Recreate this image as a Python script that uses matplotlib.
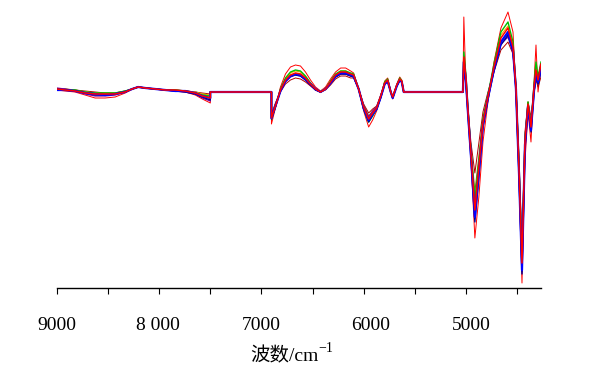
import matplotlib
matplotlib.use('Agg')
import matplotlib.pyplot as plt

plt.rcParams['font.family'] = ['Liberation Serif', 'Noto Sans CJK SC']

# wavenumber grid (cm-1) of the three measured windows
wn1 = [9000, 8922, 8824, 8725, 8627, 8529, 8431, 8333, 8265, 8206, 8137, 8039,
       7941, 7843, 7745, 7647, 7578, 7500]
wn3 = [6902, 6863, 6814, 6765, 6716, 6667, 6618, 6569, 6520, 6471, 6422, 6373,
       6324, 6275, 6225, 6176, 6127, 6098, 6049, 6000, 5951, 5912, 5873, 5833,
       5794, 5765, 5735, 5716, 5676, 5647, 5627, 5608]
wn5 = [5020, 5000, 4980, 4951, 4912, 4873, 4833, 4784, 4725, 4657, 4588, 4539,
       4510, 4480, 4451, 4422, 4392, 4363, 4333, 4314, 4294, 4265]

# spectra (a.u.), one entry per window
high = ([2, 1, 0, -3, -6, -6, -5, -1, 3, 5, 4, 3, 2, 1, 0, -3, -7, -11],
        [-32, -16, 5, 18, 25, 27, 26, 20, 12, 5, 1, 5, 13, 20, 24, 24, 21, 19, 3,
         -19, -35, -28, -19, -4, 11, 14, 1, -7, 8, 15, 12, 0],
        [75, 10, -18, -65, -146, -105, -50, -10, 30, 64, 80, 60, 0, -90, -191,
         -70, -20, -50, 10, 47, 0, 25])
low = ([3, 3, 2, 1, 0, -1, -1, 1, 3, 5, 4, 3, 2, 2, 1, 0, -1, -2],
       [-22, -11, 0, 8, 12, 14, 13, 10, 6, 2, 0, 2, 7, 13, 16, 16, 14, 14, 3,
        -12, -21, -17, -14, -3, 8, 10, 0, -4, 6, 11, 10, 0],
       [20, 10, -15, -50, -81, -51, -20, 0, 20, 42, 50, 38, 5, -65, -153, -40,
        -10, -25, 0, 12, 5, 15])
olive = ([3, 3, 2, 0, -1, -1, -1, 1, 3, 5, 4, 3, 2, 2, 1, 0, -2, -3],
         [-23, -12, 1, 11, 16, 18, 17, 13, 8, 3, 0, 3, 9, 15, 18, 18, 16, 15, 3,
          -13, -24, -19, -15, -4, 9, 11, 0, -4, 6, 12, 10, 0],
         [22, 10, -16, -55, -100, -65, -26, -2, 24, 50, 58, 42, 5, -72, -160,
          -45, -10, -30, 4, 18, 10, 20])
orange = ([3, 2, 1, 0, -1, -2, -1, 0, 3, 5, 4, 3, 2, 1, 1, 0, -2, -3],
          [-25, -14, 2, 13, 19, 21, 20, 15, 9, 3, 1, 4, 11, 17, 21, 21, 18, 17, 3,
           -15, -28, -22, -16, -4, 10, 12, 0, -5, 7, 13, 11, 0],
          [32, 14, -17, -60, -112, -72, -30, -4, 26, 57, 66, 47, 5, -76, -168,
           -50, -12, -34, 6, 25, 14, 27])
green = ([3, 2, 2, 0, -1, -1, -1, 1, 3, 5, 4, 3, 2, 2, 1, -1, -3, -4],
         [-27, -15, 3, 14, 20, 22, 21, 16, 9, 3, 0, 3, 11, 18, 21, 21, 19, 18, 3,
          -17, -30, -24, -17, -5, 10, 13, 0, -6, 7, 14, 11, 0],
         [40, 18, -16, -58, -108, -70, -28, -3, 28, 60, 70, 50, 5, -75, -165,
          -48, -10, -33, 8, 30, 15, 30])
purple = ([4, 3, 1, -2, -4, -4, -3, 0, 3, 5, 4, 3, 2, 1, 0, -2, -6, -9],
          [-24, -13, 1, 10, 15, 17, 16, 12, 7, 2, 0, 3, 9, 15, 18, 18, 16, 15, 3,
           -14, -25, -19, -15, -5, 8, 11, 0, -5, 6, 12, 10, 0],
          [25, 8, -20, -60, -120, -78, -32, -5, 22, 48, 55, 40, 3, -80, -180,
           -55, -15, -36, 0, 15, 8, 20])
navy = ([3, 2, 1, -1, -3, -3, -2, 0, 3, 5, 4, 3, 2, 1, 0, -2, -5, -8],
        [-27, -15, 1, 11, 16, 17, 16, 12, 7, 2, 0, 3, 9, 15, 18, 18, 16, 15, 3,
         -17, -30, -23, -17, -6, 8, 11, 0, -6, 6, 12, 10, 0],
        [28, 10, -22, -66, -130, -85, -36, -7, 21, 47, 57, 40, 2, -85, -182,
         -56, -16, -40, 0, 15, 8, 22])
blue = ([2, 2, 1, -1, -2, -3, -2, 0, 3, 5, 4, 3, 2, 1, 1, -1, -4, -6],
        [-26, -14, 1, 11, 16, 18, 17, 13, 8, 3, 0, 3, 9, 16, 19, 19, 17, 16, 3,
         -16, -28, -22, -17, -5, 8, 11, 0, -6, 6, 12, 10, 0],
        [30, 12, -20, -63, -125, -80, -33, -6, 23, 50, 60, 42, 3, -82, -178,
         -53, -14, -38, 2, 18, 10, 25])
mean = ([3, 2, 1, -1, -2, -2, -2, 0, 3, 5, 4, 3, 2, 2, 1, -1, -4, -6],
        [-26, -14, 2, 12, 17, 19, 18, 14, 8, 3, 0, 3, 10, 17, 20, 20, 18, 17, 3,
         -15, -27, -21, -16, -4, 9, 12, 0, -5, 7, 13, 11, 0],
        [35, 15, -18, -61, -118, -75, -31, -5, 25, 54, 64, 45, 5, -78, -171,
         -50, -12, -35, 5, 22, 12, 28])

tick_pos = [9000, 8010, 7000, 5931, 4951]
tick_txt = ['9000', '8 000', '7000', '6000', '5000']

# excluded windows are flat zero
x = wn1 + [7500, 6902] + wn3 + [5029] + wn5


def full(s):
    return s[0] + [0, 0] + s[1] + [0] + s[2]


fig = plt.figure(figsize=(5.93, 3.66), dpi=100)
ax = fig.add_axes([57 / 593, 78 / 366, 484 / 593, 278 / 366])

ax.plot(x, full(high), color='#ff0000', lw=0.7)
ax.plot(x, full(low), color='#b00000', lw=0.7)
ax.plot(x, full(olive), color='#808000', lw=0.8)
ax.plot(x, full(orange), color='#ffa500', lw=0.8)
ax.plot(x, full(green), color='#00c000', lw=1.0)
ax.plot(x, full(purple), color='#8000a0', lw=0.9)
ax.plot(x, full(navy), color='#000090', lw=1.0)
ax.plot(x, full(blue), color='#0000ff', lw=1.6)
ax.plot(x, full(mean), color='#ff0000', lw=1.1)

ax.set_xlim(9000, 4265)
ax.set_ylim(-196, 82)
for s in ['top', 'left', 'right']:
    ax.spines[s].set_visible(False)
ax.spines['bottom'].set_linewidth(1.0)
ax.set_yticks([])
ax.set_xticks(range(9000, 4400, -500))
ax.tick_params(axis='x', direction='out', length=4, width=0.8, labelbottom=False)

for p, t in zip(tick_pos, tick_txt):
    ax.text(p, -0.135, t, transform=ax.get_xaxis_transform(), ha='center',
            va='center', fontsize=14)

# x label: plain text plus a raised "−1"
lab = ax.text(0.47, -0.245, '波数/cm', transform=ax.transAxes, ha='center',
              va='center', fontsize=14)
ax.annotate('\u22121', xy=(1, 0.55), xycoords=lab, fontsize=10,
            ha='left', va='bottom')

plt.savefig('out.png', dpi=100)
plt.close()
